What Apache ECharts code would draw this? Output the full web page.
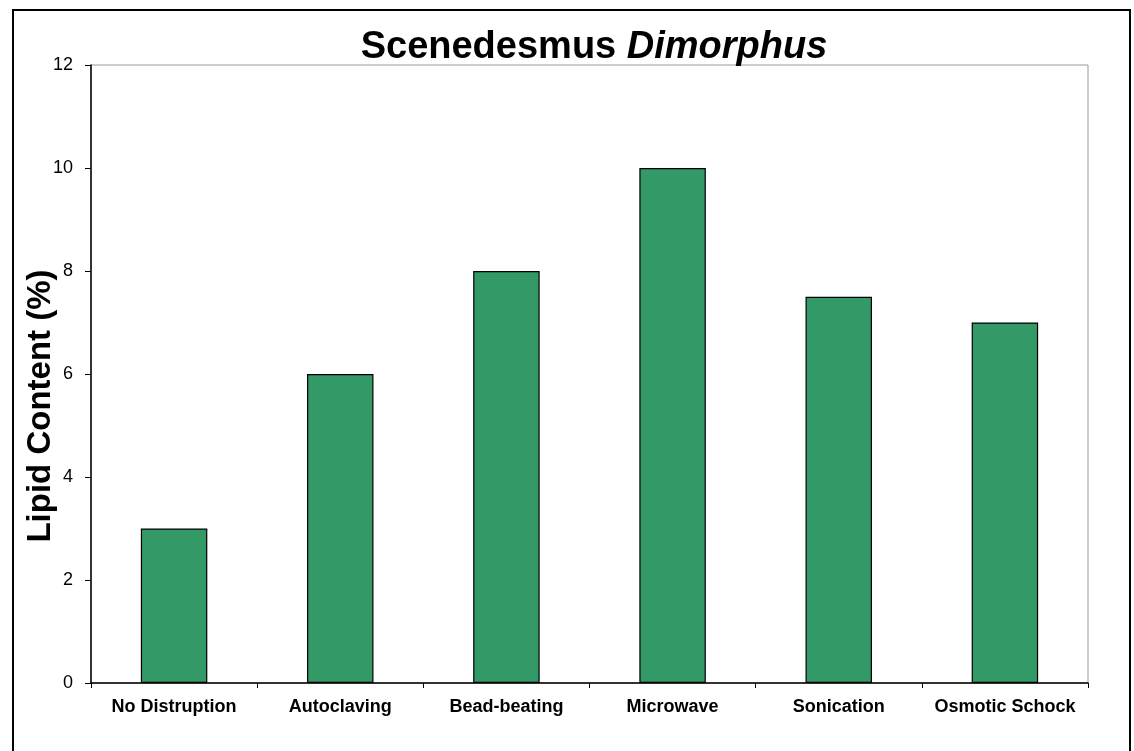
<!DOCTYPE html>
<html>
<head>
<meta charset="utf-8">
<script src="https://cdn.jsdelivr.net/npm/echarts@6/dist/echarts.min.js"></script>
<style>
  html, body { margin: 0; padding: 0; background: #fff; }
  #chart { width: 1134px; height: 751px; }
</style>
</head>
<body>
<div id="chart"></div>
<script>
// data
const categories = ["No Distruption", "Autoclaving", "Bead-beating", "Microwave", "Sonication", "Osmotic Schock"];
const lipidValues = [3, 6, 8, 10, 7.5, 7];
const yTicks = [0, 2, 4, 6, 8, 10, 12];

let myChart = echarts.init(document.getElementById("chart"));
myChart.setOption({
  animation: false,
  textStyle: { fontFamily: "Liberation Sans, Arial, sans-serif" },
  title: {
    text: "{a|Scenedesmus }{b|Dimorphus}",
    left: 589,
    textAlign: "center",
    top: 24,
    textStyle: {
      rich: {
        a: { fontSize: 38, fontWeight: "bold", color: "#000", fontFamily: "Liberation Sans" },
        b: { fontSize: 38, fontWeight: "bold", fontStyle: "italic", color: "#000", fontFamily: "Liberation Sans" }
      }
    }
  },
  graphic: [
    {
      type: "rect",
      shape: { x: 13, y: 10, width: 1117, height: 745 },
      style: { fill: "none", stroke: "#000", lineWidth: 2 },
      z: -1
    }
  ],
  grid: {
    left: 91,
    top: 65,
    right: 46,
    bottom: 68,
    show: true,
    borderColor: "#999",
    borderWidth: 1
  },
  xAxis: {
    type: "category",
    data: categories,
    axisLine: { lineStyle: { color: "#000", width: 1.5 } },
    axisTick: { show: true, interval: 0, length: 5, lineStyle: { color: "#000" } },
    axisLabel: { color: "#000", fontSize: 18, fontWeight: "bold", margin: 15, interval: 0 },
    splitLine: { show: false }
  },
  yAxis: {
    type: "value",
    min: yTicks[0],
    max: yTicks[yTicks.length - 1],
    interval: 2,
    name: "Lipid Content (%)",
    nameLocation: "middle",
    nameGap: 34,
    nameMoveOverlap: false,
    nameTextStyle: { color: "#000", fontSize: 33, fontWeight: "bold", padding: [0, 64, 0, 0] },
    axisLine: { show: true, lineStyle: { color: "#000", width: 1.5 } },
    axisTick: { show: true, length: 6, lineStyle: { color: "#000" } },
    axisLabel: { color: "#000", fontSize: 18, margin: 18 },
    splitLine: { show: false }
  },
  series: [
    {
      name: "Lipid Content",
      type: "bar",
      data: lipidValues,
      barWidth: "40%",
      itemStyle: { color: "#339966", borderColor: "#000", borderWidth: 1.2 }
    }
  ]
});
</script>
</body>
</html>
